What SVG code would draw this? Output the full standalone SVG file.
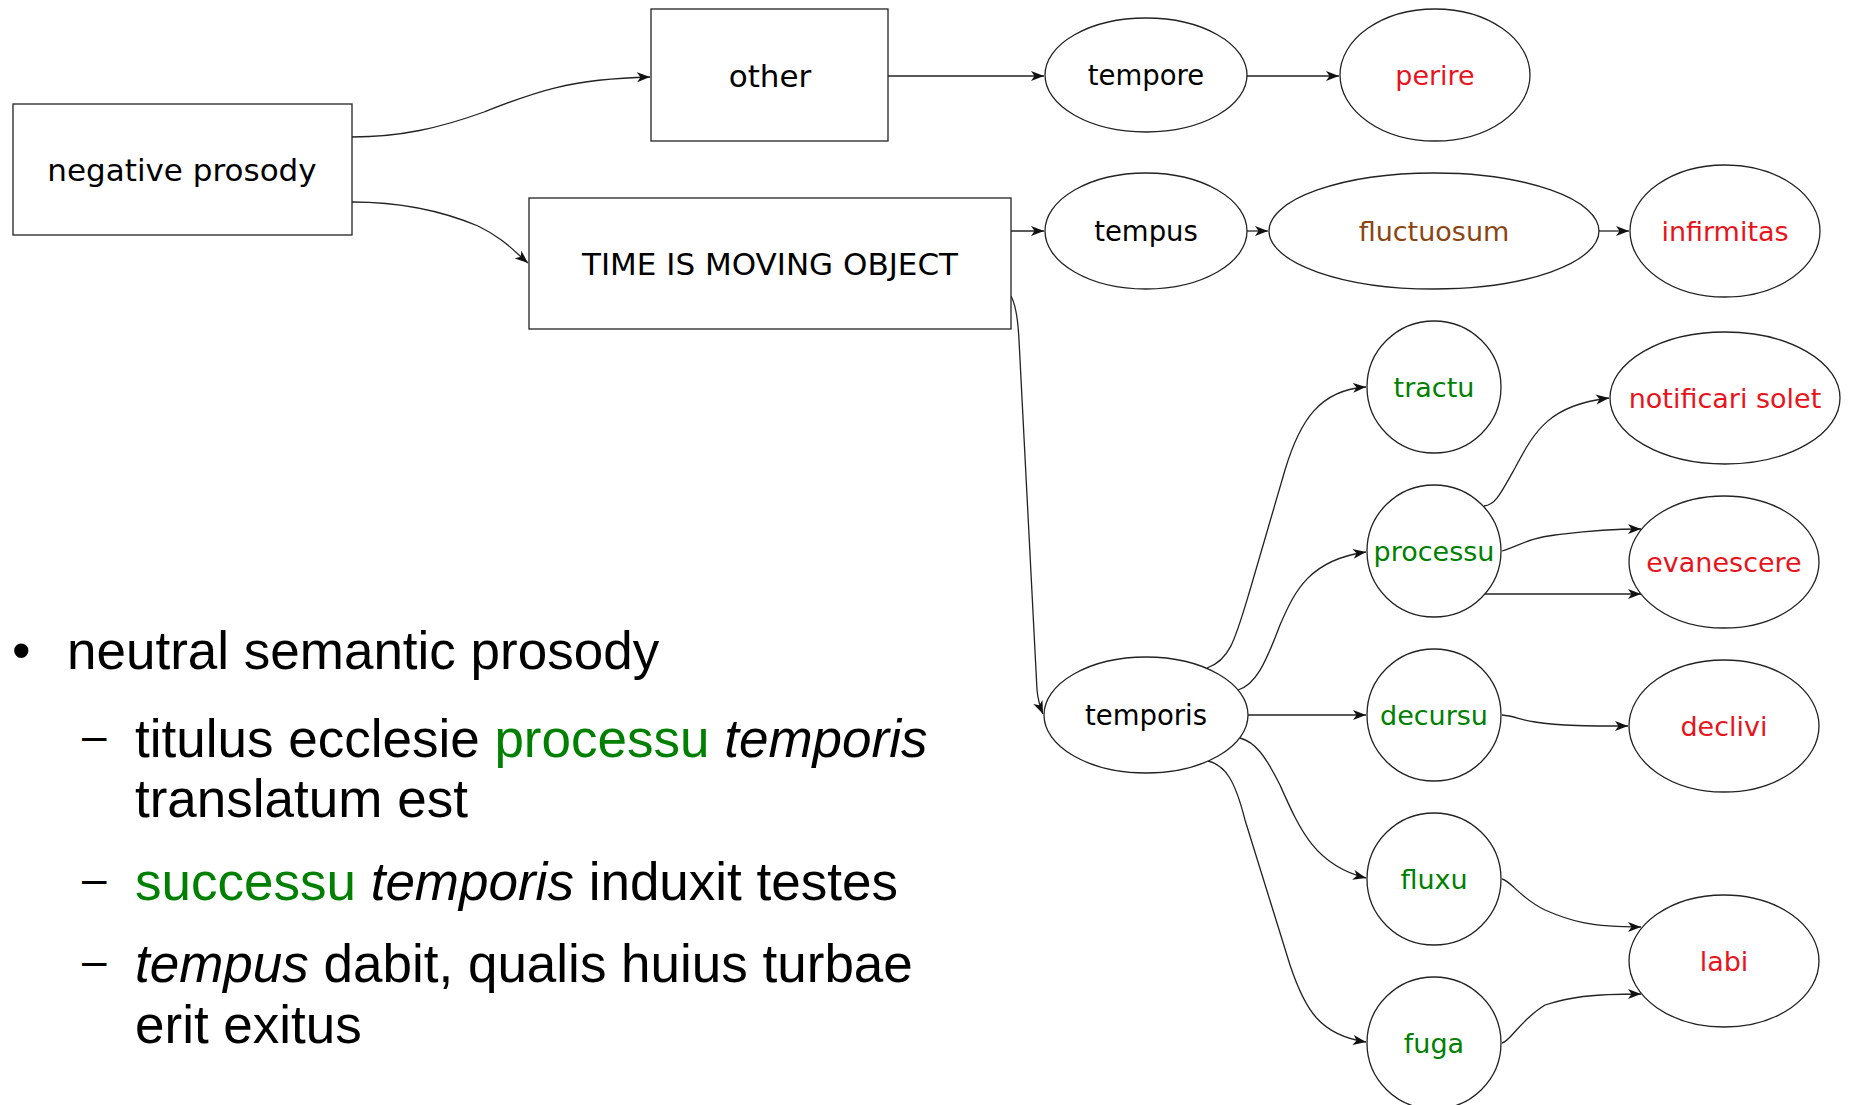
<svg xmlns="http://www.w3.org/2000/svg" width="1850" height="1105" viewBox="0 0 1850 1105">
<style>
.box{fill:#fff;stroke:#222;stroke-width:1.3}
.ell{fill:#fff;stroke:#222;stroke-width:1.3}
.lbl{font-family:"DejaVu Sans",sans-serif;text-anchor:middle}
.big{font-size:31px}
.sm{font-size:27.5px}
.k{fill:#000}
.g{fill:#008000;font-size:27px}
.r{fill:#e8141c;font-size:27px}
.b{fill:#8b4513;font-size:27px}
.edge{fill:none;stroke:#222;stroke-width:1.3;marker-end:url(#arr)}
.txt{font-family:"Liberation Sans",Arial,sans-serif;font-size:53px;fill:#000}
.dash{font-family:"Liberation Sans",Arial,sans-serif;font-size:44px;fill:#000}
.gt{fill:#008000}
</style>
<defs>
<marker id="arr" markerUnits="userSpaceOnUse" markerWidth="14" markerHeight="12" viewBox="0 0 14 12" refX="13" refY="6" orient="auto">
<path d="M0,1 L13,6 L0,11 L3.5,6 z" fill="#111"/>
</marker>
</defs>
<g id="edges">
<path class="edge" d="M352,137 C400,137 440,128 484,112 C530,94 565,79 650,77"/>
<path class="edge" d="M352,202 C400,202 440,210 478,226 C503,238 514,251 528,263"/>
<path class="edge" d="M888,76 L1044,76"/>
<path class="edge" d="M1247,76 L1339,76"/>
<path class="edge" d="M1011,231 L1044,231"/>
<path class="edge" d="M1247,231 L1268,231"/>
<path class="edge" d="M1599,231 L1629,231"/>
<path class="edge" d="M1011,296 C1016,305 1018,320 1019,340 L1037,690 C1038,700 1040,707 1043,714"/>
<path class="edge" d="M1207,668 C1230,660 1235,640 1250,590 L1285,470 C1300,420 1320,390 1366,387"/>
<path class="edge" d="M1238,690 C1255,685 1265,665 1280,625 C1295,590 1310,560 1366,552"/>
<path class="edge" d="M1248,715 L1366,715"/>
<path class="edge" d="M1240,738 C1255,742 1265,755 1280,785 C1300,830 1315,865 1366,878"/>
<path class="edge" d="M1208,761 C1225,765 1235,780 1245,820 L1290,965 C1305,1010 1320,1035 1366,1042"/>
<path class="edge" d="M1484,506 C1495,505 1500,495 1515,468 C1535,430 1550,405 1609,398"/>
<path class="edge" d="M1502,551 C1520,545 1530,538 1555,535 C1580,532 1600,529 1641,529"/>
<path class="edge" d="M1484,594 L1641,594"/>
<path class="edge" d="M1502,715 C1515,716 1520,720 1535,722 C1560,726 1590,726 1628,726"/>
<path class="edge" d="M1502,879 C1510,880 1520,898 1545,910 C1570,921 1590,927 1641,927"/>
<path class="edge" d="M1502,1043 C1510,1042 1520,1020 1545,1005 C1570,997 1590,994 1641,994"/>
</g>
<g id="negative_prosody"><rect class="box" x="13" y="104" width="339" height="131"/><text class="lbl big k" x="182" y="181">negative prosody</text></g>
<g id="other"><rect class="box" x="651" y="9" width="237" height="132"/><text class="lbl big k" x="770" y="87">other</text></g>
<g id="time_moving"><rect class="box" x="529" y="198" width="482" height="131"/><text class="lbl big k" x="770" y="275">TIME IS MOVING OBJECT</text></g>
<g id="tempore"><ellipse class="ell" cx="1146" cy="75" rx="101" ry="57"/><text class="lbl sm k" x="1146" y="85">tempore</text></g>
<g id="perire"><ellipse class="ell" cx="1435" cy="75" rx="95" ry="66"/><text class="lbl r" x="1435" y="85">perire</text></g>
<g id="tempus"><ellipse class="ell" cx="1146" cy="231" rx="101" ry="58"/><text class="lbl sm k" x="1146" y="241">tempus</text></g>
<g id="fluctuosum"><ellipse class="ell" cx="1434" cy="231" rx="165" ry="58"/><text class="lbl b" x="1434" y="241">fluctuosum</text></g>
<g id="infirmitas"><ellipse class="ell" cx="1725" cy="231" rx="95" ry="66"/><text class="lbl r" x="1725" y="241">infirmitas</text></g>
<g id="tractu"><ellipse class="ell" cx="1434" cy="387" rx="67" ry="66"/><text class="lbl g" x="1434" y="397">tractu</text></g>
<g id="notificari_solet"><ellipse class="ell" cx="1725" cy="398" rx="115" ry="66"/><text class="lbl r" x="1725" y="408">notificari solet</text></g>
<g id="processu"><ellipse class="ell" cx="1434" cy="551" rx="67" ry="66"/><text class="lbl g" x="1434" y="561">processu</text></g>
<g id="evanescere"><ellipse class="ell" cx="1724" cy="562" rx="95" ry="66"/><text class="lbl r" x="1724" y="572">evanescere</text></g>
<g id="temporis"><ellipse class="ell" cx="1146" cy="715" rx="102" ry="58"/><text class="lbl sm k" x="1146" y="725">temporis</text></g>
<g id="decursu"><ellipse class="ell" cx="1434" cy="715" rx="67" ry="66"/><text class="lbl g" x="1434" y="725">decursu</text></g>
<g id="declivi"><ellipse class="ell" cx="1724" cy="726" rx="95" ry="66"/><text class="lbl r" x="1724" y="736">declivi</text></g>
<g id="fluxu"><ellipse class="ell" cx="1434" cy="879" rx="67" ry="66"/><text class="lbl g" x="1434" y="889">fluxu</text></g>
<g id="labi"><ellipse class="ell" cx="1724" cy="961" rx="95" ry="66"/><text class="lbl r" x="1724" y="971">labi</text></g>
<g id="fuga"><ellipse class="ell" cx="1434" cy="1043" rx="67" ry="66"/><text class="lbl g" x="1434" y="1053">fuga</text></g>
<g id="bullets">
<text class="txt" x="12" y="669">•</text>
<text class="txt" x="67" y="669">neutral semantic prosody</text>
<text class="dash" x="82" y="751">–</text>
<text class="txt" x="135" y="757">titulus ecclesie <tspan class="gt">processu</tspan> <tspan font-style="italic">temporis</tspan></text>
<text class="txt" x="135" y="817">translatum est</text>
<text class="dash" x="82" y="894">–</text>
<text class="txt" x="135" y="900"><tspan class="gt">successu</tspan> <tspan font-style="italic">temporis</tspan> induxit testes</text>
<text class="dash" x="82" y="976">–</text>
<text class="txt" x="135" y="982"><tspan font-style="italic">tempus</tspan> dabit, qualis huius turbae</text>
<text class="txt" x="135" y="1043">erit exitus</text>
</g>
</svg>
